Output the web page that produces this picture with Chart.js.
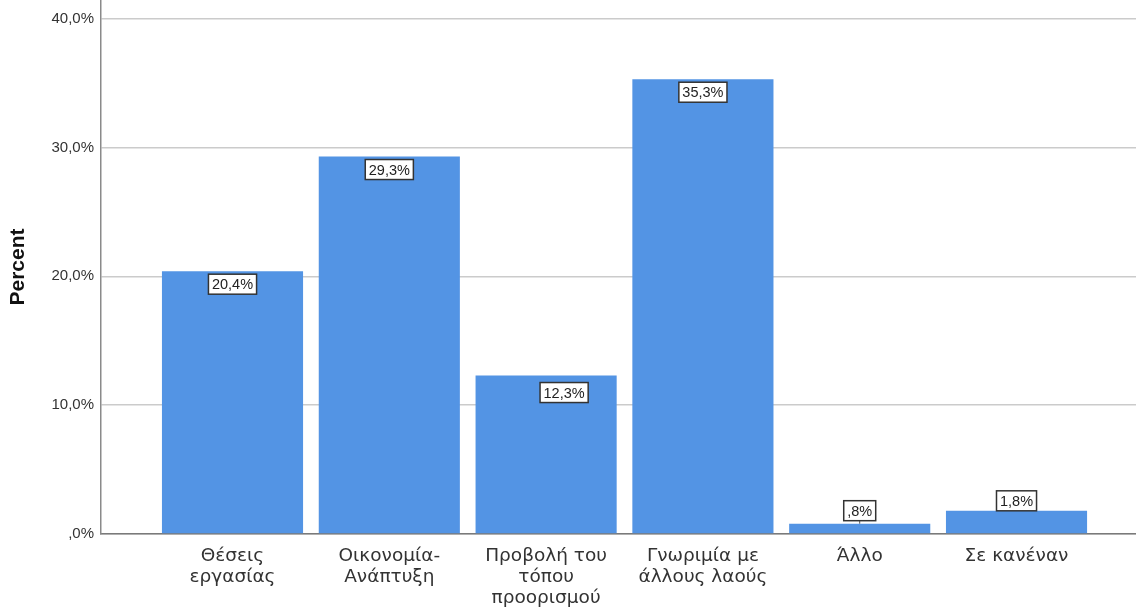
<!DOCTYPE html>
<html>
<head>
<meta charset="utf-8">
<script src="https://cdn.jsdelivr.net/npm/chart.js@4"></script>
<style>
  body { margin: 0; background: #fff; }
  canvas { display: block; }
</style>
</head>
<body>
<canvas id="chart" width="1136" height="609"></canvas>
<script>
const categories = [
  ['Θέσεις', 'εργασίας'],
  ['Οικονομία-', 'Ανάπτυξη'],
  ['Προβολή του', 'τόπου', 'προορισμού'],
  ['Γνωριμία με', 'άλλους λαούς'],
  ['Άλλο'],
  ['Σε κανέναν']
];
const percents = [20.4, 29.3, 12.3, 35.3, 0.8, 1.8];
const yTicks = [0, 10, 20, 30, 40];

const fmt = v => (v < 1 ? '' : Math.floor(v)) + ',' + Math.round((v % 1) * 10) + '%';
const fontFamily = '"Liberation Sans", Arial, sans-serif';

// white boxed value labels, SPSS style
const boxLabels = {
  id: 'boxLabels',
  afterDatasetsDraw(chart, args, opts) {
    const ctx = chart.ctx;
    const meta = chart.getDatasetMeta(0);
    ctx.save();
    ctx.font = '14.5px ' + fontFamily;
    ctx.textAlign = 'center';
    ctx.textBaseline = 'middle';
    meta.data.forEach((bar, i) => {
      const txt = fmt(percents[i]);
      const w = ctx.measureText(txt).width + 7;
      const h = 20;
      const shift = opts.shiftX[i] || 0;
      const cx = bar.x + shift;
      let top;
      if (percents[i] > 5) {
        top = bar.y + (opts.dropY[i] || 3);
      } else {
        top = bar.y - (opts.gapY[i] || 0) - h;
        ctx.strokeStyle = '#555';
        ctx.lineWidth = 1;
        ctx.beginPath();
        ctx.moveTo(cx, top + h);
        ctx.lineTo(cx, bar.y);
        ctx.stroke();
      }
      ctx.fillStyle = '#fff';
      ctx.fillRect(cx - w / 2, top, w, h);
      ctx.strokeStyle = '#333';
      ctx.lineWidth = 1.5;
      ctx.strokeRect(cx - w / 2, top, w, h);
      ctx.fillStyle = '#222';
      ctx.fillText(txt, cx, top + h / 2 + 1);
    });
    ctx.restore();
  }
};

new Chart(document.getElementById('chart'), {
  type: 'bar',
  data: {
    datasets: [{
      data: percents.map((v, i) => ({ x: i, y: v })),
      backgroundColor: '#5394e4',
      categoryPercentage: 1,
      barPercentage: 0.9
    }]
  },
  plugins: [boxLabels],
  options: {
    responsive: false,
    animation: false,
    layout: { padding: 0 },
    scales: {
      x: {
        type: 'linear',
        offset: false,
        min: -0.8387,
        max: 5.762,
        afterBuildTicks: axis => { axis.ticks = categories.map((c, i) => ({ value: i })); },
        afterFit: axis => { axis.height = 75; axis.paddingLeft = 0; axis.paddingRight = 0; },
        grid: { display: false, drawTicks: false, offset: false },
        border: { display: true, color: '#7a7a7a', width: 1.5 },
        ticks: {
          autoSkip: false,
          maxRotation: 0,
          padding: 12,
          color: '#333',
          font: { family: '"DejaVu Sans", sans-serif', size: 18.5, lineHeight: 1.12 },
          callback: v => categories[v]
        }
      },
      y: {
        min: 0,
        max: 41.45,
        afterBuildTicks: axis => { axis.ticks = yTicks.map(v => ({ value: v })); },
        afterFit: axis => { axis.width = 101; axis.paddingTop = 0; axis.paddingBottom = 0; },
        grid: { color: '#cbcbcb', lineWidth: 1.5, drawTicks: false },
        border: { display: true, color: '#8a8a8a', width: 1.5 },
        ticks: {
          padding: 7,
          color: '#333',
          font: { family: fontFamily, size: 15 },
          callback: v => v === 0 ? ',0%' : v.toFixed(1).replace('.', ',') + '%'
        },
        title: {
          display: true,
          text: 'Percent',
          color: '#111',
          padding: { top: 6, bottom: 0 },
          font: { family: fontFamily, size: 21, weight: 'bold' }
        }
      }
    },
    plugins: {
      legend: { display: false },
      tooltip: { enabled: false },
      boxLabels: { shiftX: { 2: 18 }, dropY: { 2: 7 }, gapY: { 4: 3 } }
    }
  }
});
</script>
</body>
</html>
